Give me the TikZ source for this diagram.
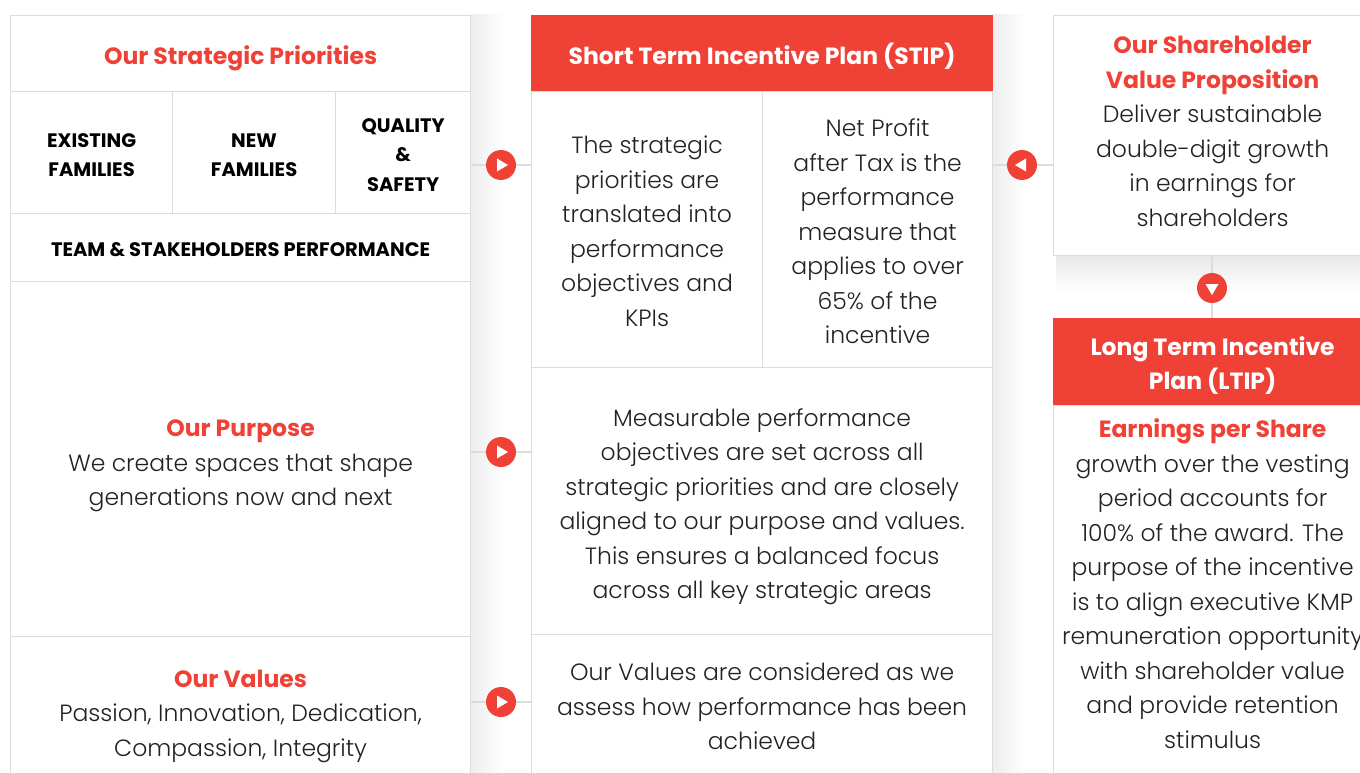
\documentclass[tikz,border=0pt]{standalone}
\usepackage{fontspec}
\setmainfont{Poppins}[UprightFont=* Light, BoldFont=* Bold]
\usepackage{xcolor}
\usetikzlibrary{positioning}

\definecolor{brandred}{RGB}{239,65,54}
\definecolor{cellline}{RGB}{220,220,220}
\definecolor{bodytext}{RGB}{34,34,34}

\newcommand{\bodyfont}{\fontsize{23.5}{34.5}\selectfont}
\newcommand{\tagfont}{\fontsize{19.5}{29.5}\selectfont\bfseries}
\newcommand{\hd}[1]{{\color{brandred}\bfseries #1}}

% small white triangles inside the red dots
\newcommand{\triright}[1]{\fill[white] ([shift={(-4,-6.5)}]#1.center) -- ([shift={(7,0)}]#1.center) -- ([shift={(-4,6.5)}]#1.center) -- cycle;}
\newcommand{\trileft}[1]{\fill[white] ([shift={(4,-6.5)}]#1.center) -- ([shift={(-7,0)}]#1.center) -- ([shift={(4,6.5)}]#1.center) -- cycle;}
\newcommand{\tridown}[1]{\fill[white] ([shift={(-6.5,-4)}]#1.center) -- ([shift={(6.5,-4)}]#1.center) -- ([shift={(0,7)}]#1.center) -- cycle;}

\begin{document}
\begin{tikzpicture}[
    x=1pt, y=-1pt,
    % strut beside the text block: its height sets where the last baseline sits
    boxtop/.style={execute at begin node={\rule{0pt}{#1}}},
    cell/.style={draw=cellline, line width=1.2pt, fill=white, anchor=north west, align=center, inner sep=0pt, text=bodytext, font=\bodyfont,
        execute at end node=\strut},
    redcell/.style={cell, fill=brandred, draw=brandred, text=white, font=\bodyfont\bfseries},
    tagcell/.style={cell, text=black, font=\tagfont},
    dot/.style={circle, fill=brandred, minimum size=30pt, inner sep=0pt},
    link/.style={draw=cellline, line width=1.2pt}
]
    \useasboundingbox (0,0) rectangle (1360,773);
    \clip (0,0) rectangle (1360,773);
    \fill[white] (0,0) rectangle (1360,773);

    % soft shadows
    \shade[left color=black!7, right color=white] (470,15) rectangle (504,773);
    \shade[left color=black!7, right color=white] (992,15) rectangle (1026,773);
    \shade[top color=black!9, bottom color=white] (1056,255) rectangle (1360,292);

    % strategic priorities column
    \node[cell, boxtop=32pt, minimum width=460, minimum height=76] (prio) at (10,15) {\hd{Our Strategic Priorities}};
    \node[tagcell, boxtop=57pt, minimum width=162, minimum height=122] (existing) at (10,91) {EXISTING\\FAMILIES};
    \node[tagcell, boxtop=57pt, minimum width=163, minimum height=122] (newfam) at (172,91) {NEW\\FAMILIES};
    \node[tagcell, boxtop=86.5pt, minimum width=135, minimum height=122] (quality) at (335,91) {QUALITY\\\&\\SAFETY};
    \node[tagcell, boxtop=26.5pt, minimum width=460, minimum height=68] (team) at (10,213) {TEAM \& STAKEHOLDERS PERFORMANCE};
    \node[cell, boxtop=104pt, minimum width=460, minimum height=355] (purpose) at (10,281) {\hd{Our Purpose}\\We create spaces that shape\\generations now and next};
    \node[cell, boxtop=100pt, minimum width=460, minimum height=150] (values) at (10,636) {\hd{Our Values}\\Passion, Innovation, Dedication,\\Compassion, Integrity};

    % STIP column
    \node[redcell, boxtop=32pt, minimum width=461, minimum height=76] (stip) at (531,15) {Short Term Incentive Plan (STIP)};
    \node[cell, boxtop=204pt, minimum width=231, minimum height=276] (translate) at (531,91) {The strategic\\priorities are\\translated into\\performance\\objectives and\\KPIs};
    \node[cell, boxtop=238.5pt, minimum width=230, minimum height=276] (npat) at (762,91) {Net Profit\\after Tax is the\\performance\\measure that\\applies to over\\65\% of the\\incentive};
    \node[cell, boxtop=206pt, minimum width=461, minimum height=267] (measure) at (531,367) {Measurable performance\\objectives are set across all\\strategic priorities and are closely\\aligned to our purpose and values.\\This ensures a balanced focus\\across all key strategic areas};
    \node[cell, boxtop=96.5pt, minimum width=461, minimum height=144] (assess) at (531,634) {Our Values are considered as we\\assess how performance has been\\achieved};

    % shareholder value and LTIP column
    \node[cell, boxtop=191.5pt, minimum width=318, minimum height=240] (svp) at (1053,15) {\hd{Our Shareholder}\\\hd{Value Proposition}\\Deliver sustainable\\double-digit growth\\in earnings for\\shareholders};
    \node[redcell, boxtop=66pt, minimum width=318, minimum height=87] (ltip) at (1053,318) {Long Term Incentive\\Plan (LTIP)};
    \node[cell, minimum width=318, minimum height=420] (ltipbody) at (1053,405) {};
    \node[text=bodytext, font=\bodyfont, align=center, inner sep=0pt, execute at begin node=\strut, execute at end node=\strut]
        (ltiptext) at ([yshift=-184pt]ltipbody.north) {\hd{Earnings per Share}\\growth over the vesting\\period accounts for\\100\% of the award. The\\purpose of the incentive\\is to align executive KMP\\remuneration opportunity\\with shareholder value\\and provide retention\\stimulus};

    % dots
    \node[dot] (dotprio) at (501,165) {};
    \node[dot] (dotsvp) at (1022,165) {};
    \node[dot] (dotltip) at (1212,288) {};
    \node[dot] (dotpurpose) at (501,452) {};
    \node[dot] (dotvalues) at (501,702) {};

    % links
    \draw[link] (quality.east |- dotprio) -- (dotprio.west);
    \draw[link] (dotprio.east) -- (translate.west |- dotprio);
    \draw[link] (npat.east |- dotsvp) -- (dotsvp.west);
    \draw[link] (dotsvp.east) -- (svp.west |- dotsvp);
    \draw[link] (svp.south -| dotltip) -- (dotltip.north);
    \draw[link] (dotltip.south) -- (ltip.north -| dotltip);
    \draw[link] (purpose.east |- dotpurpose) -- (dotpurpose.west);
    \draw[link] (dotpurpose.east) -- (measure.west |- dotpurpose);
    \draw[link] (values.east |- dotvalues) -- (dotvalues.west);
    \draw[link] (dotvalues.east) -- (assess.west |- dotvalues);

    \triright{dotprio}
    \trileft{dotsvp}
    \tridown{dotltip}
    \triright{dotpurpose}
    \triright{dotvalues}
\end{tikzpicture}
\end{document}
